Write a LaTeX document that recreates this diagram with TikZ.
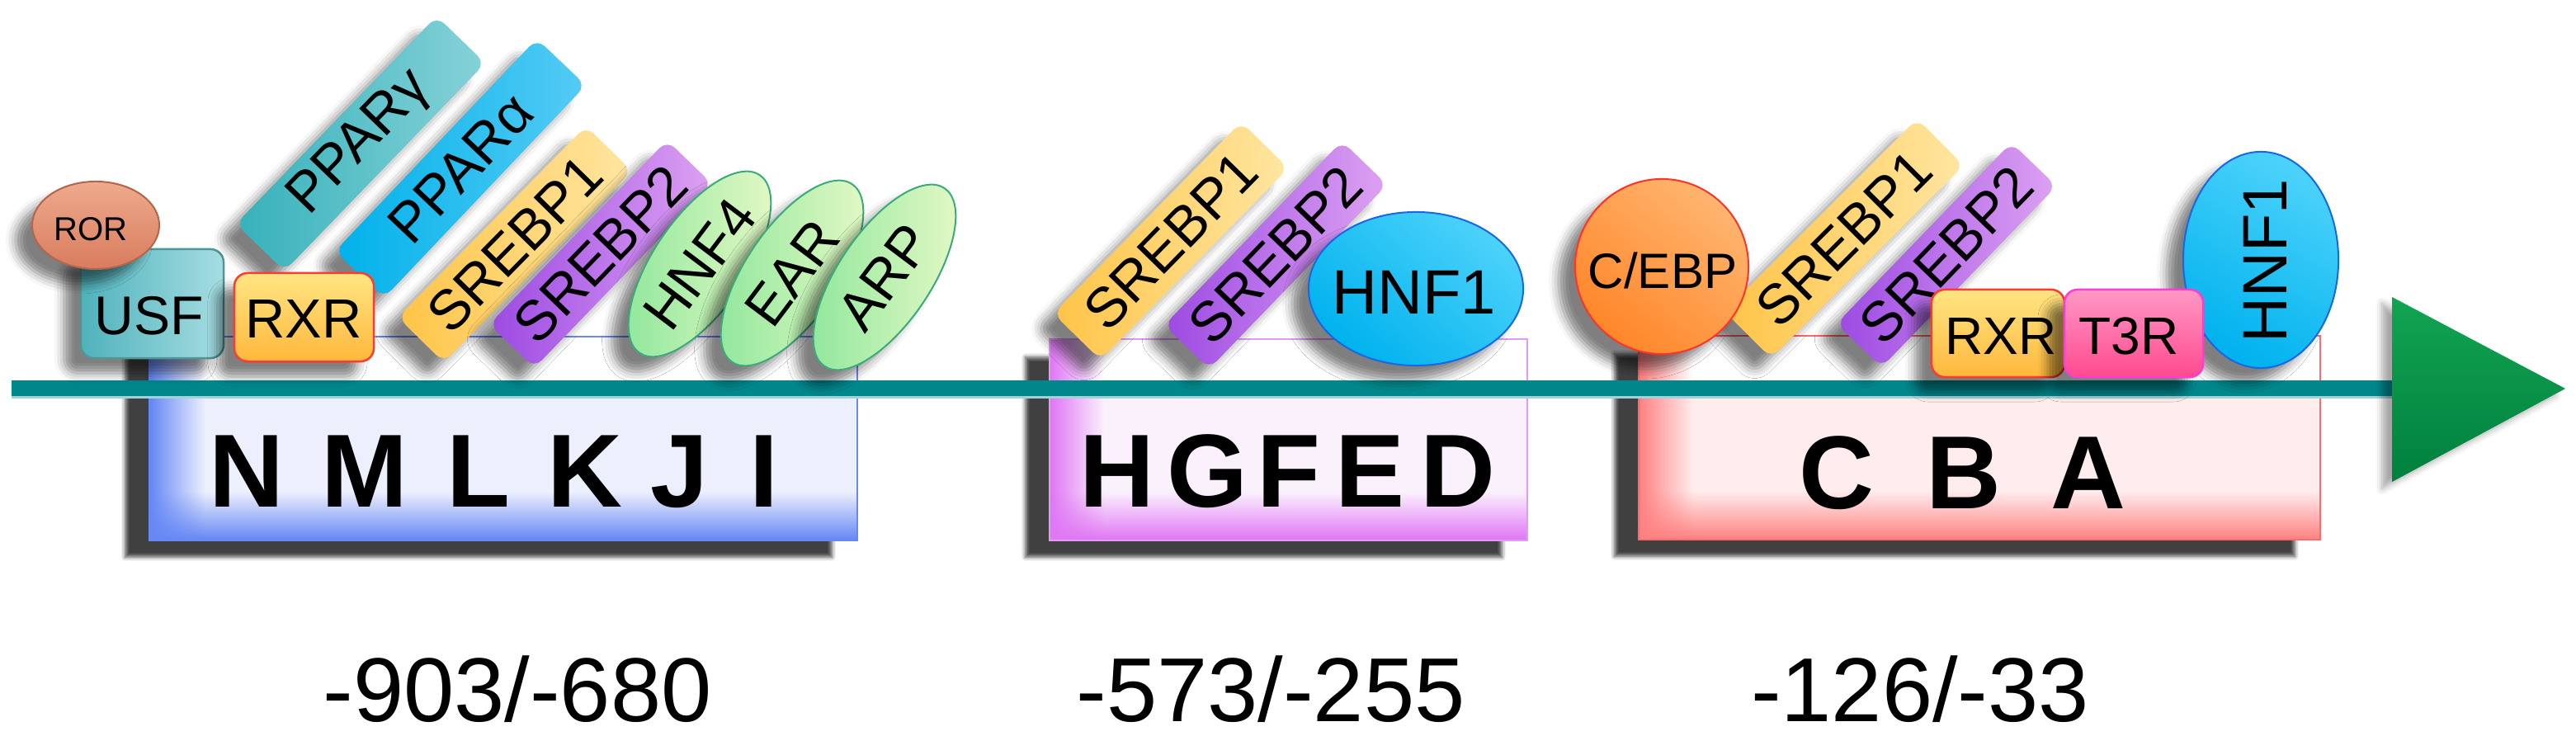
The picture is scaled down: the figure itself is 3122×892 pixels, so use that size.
\documentclass[tikz,border=0pt]{standalone}
\usepackage{fontspec}
\setmainfont{Liberation Sans}
\usetikzlibrary{shapes.geometric,shadows.blur,fadings}

\definecolor{axisc}{HTML}{00878C}
\definecolor{axislt}{HTML}{9ED3DA}
\definecolor{rorc}{HTML}{D97C5E}
\definecolor{rorlt}{HTML}{EEAA8C}
\definecolor{rorbd}{HTML}{B5654C}
\definecolor{usfc}{HTML}{4FB2BB}
\definecolor{usflt}{HTML}{A6DDE2}
\definecolor{usfbd}{HTML}{4F9696}
\definecolor{rxrc}{HTML}{FFB83C}
\definecolor{rxrlt}{HTML}{FFE583}
\definecolor{rxrbd}{HTML}{FF3A2E}
\definecolor{ppargc}{HTML}{36B1BA}
\definecolor{ppargl}{HTML}{86D2D8}
\definecolor{pparac}{HTML}{00B1EA}
\definecolor{pparal}{HTML}{55CBF4}
\definecolor{srebpa}{HTML}{FFC447}
\definecolor{srebpal}{HTML}{FFE6A2}
\definecolor{srebpb}{HTML}{9C4AE2}
\definecolor{srebpbl}{HTML}{DDA2F2}
\definecolor{greenc}{HTML}{8EE79B}
\definecolor{greenlt}{HTML}{E6F9C6}
\definecolor{greenbd}{HTML}{3DAA7C}
\definecolor{hnfc}{HTML}{00B2EE}
\definecolor{hnflt}{HTML}{4CD2FA}
\definecolor{hnfbd}{HTML}{1768E6}
\definecolor{cebpc}{HTML}{FF8629}
\definecolor{cebplt}{HTML}{FFB570}
\definecolor{cebpbd}{HTML}{FF3426}
\definecolor{t3rc}{HTML}{FF4A8E}
\definecolor{t3rlt}{HTML}{FF98C6}
\definecolor{t3rbd}{HTML}{FF3CD2}
\definecolor{arrowc}{HTML}{00803E}
\definecolor{arrowlt}{HTML}{12A452}
\definecolor{bluelt}{HTML}{ECEFFC}
\definecolor{blueglow}{HTML}{6688F5}
\definecolor{bluebd}{HTML}{6A88F2}
\definecolor{maglt}{HTML}{FBF1FD}
\definecolor{magglow}{HTML}{E077F5}
\definecolor{magbd}{HTML}{E19BF5}
\definecolor{pinklt}{HTML}{FFEDEE}
\definecolor{pinkglow}{HTML}{FF8282}
\definecolor{pinkbd}{HTML}{FF6A6A}

\newcommand{\fsz}[1]{\fontsize{#1pt}{#1pt}\selectfont}
\tikzfading[name=fadeR, left color=transparent!0, right color=transparent!100]
\tikzfading[name=fadeU, top color=transparent!100, bottom color=transparent!0]

\begin{document}
\begin{tikzpicture}[x=0.01cm, y=-0.01cm,
  pshadow/.style={blur shadow={shadow xshift=-0.2cm, shadow yshift=-0.18cm, shadow blur radius=0.12cm, shadow opacity=50}},
  bandbox/.style={rectangle, rounded corners=0.13cm, inner sep=0pt, pshadow},
  pill/.style={rectangle, rounded corners=0.16cm, inner sep=0pt, line width=0.025cm, pshadow},
  blob/.style={ellipse, inner sep=0pt, line width=0.02cm, pshadow},
  lbl/.style={inner sep=0pt, text=black, font=\fsz{19.3}},
  dnabox/.style={rectangle, inner sep=0pt, fill=white, blur shadow={shadow xshift=-0.3cm, shadow yshift=-0.21cm, shadow blur radius=0.05cm, shadow opacity=75}},
  boxletter/.style={inner sep=0pt, anchor=base, font=\fsz{35.8}\bfseries},
  coordlbl/.style={inner sep=0pt, anchor=base, font=\fsz{31.3}},
  axisline/.style={line width=0.19cm, draw=axisc},
]
\useasboundingbox (0,0) rectangle (3122,892);

% ---------------- DNA boxes ----------------
\node[dnabox, minimum width=8.56cm, minimum height=2.45cm] (boxN) at (610,531.5) {};
\fill[bluelt] (182,471) rectangle (1038,654);
\fill[blueglow, path fading=fadeU] (182,596) rectangle (1038,654);
\fill[blueglow, path fading=fadeR] (182,409) rectangle (248,654);
\draw[bluebd, line width=0.02cm] (boxN.north west) rectangle (boxN.south east);

\node[dnabox, minimum width=5.77cm, minimum height=2.42cm] (boxH) at (1561.5,533) {};
\fill[maglt] (1273,471) rectangle (1850,654);
\fill[magglow, path fading=fadeU] (1273,596) rectangle (1850,654);
\fill[magglow, path fading=fadeR] (1273,412) rectangle (1338,654);
\draw[magbd, line width=0.02cm] (boxH.north west) rectangle (boxH.south east);

\node[dnabox, minimum width=8.24cm, minimum height=2.45cm] (boxC) at (2399,530.5) {};
\fill[pinklt] (1987,471) rectangle (2811,653);
\fill[pinkglow, path fading=fadeU] (1987,595) rectangle (2811,653);
\fill[pinkglow, path fading=fadeR] (1987,408) rectangle (2052,653);
\draw[pinkbd, line width=0.02cm] (boxC.north west) rectangle (boxC.south east);

% ---------------- DNA axis ----------------
\coordinate (dna-start) at (14,471);
\coordinate (dna-end) at (2902,471);
\draw[axisline] (dna-start) -- (dna-end);
\draw[axislt, line width=0.03cm] ([yshift=-0.105cm]dna-start) -- ([yshift=-0.105cm]dna-end);

\shade[top color=arrowlt, bottom color=arrowc,
  blur shadow={shadow xshift=-0.12cm, shadow yshift=-0.08cm, shadow blur radius=0.08cm, shadow opacity=35}]
  (2899,360) -- (3109,471) -- (2899,584) -- cycle;

% ---------------- box letters ----------------
\node[boxletter] (lN) at (299,615) {N};
\node[boxletter] (lM) at (442,615) {M};
\node[boxletter] (lL) at (580,615) {L};
\node[boxletter] (lK) at (709,615) {K};
\node[boxletter] (lJ) at (823,615) {J};
\node[boxletter] (lI) at (926,615) {I};

\node[boxletter] (lH) at (1354,615) {H};
\node[boxletter] (lG) at (1463,615) {G};
\node[boxletter] (lF) at (1562,615) {F};
\node[boxletter] (lE) at (1660,615) {E};
\node[boxletter] (lD) at (1767,615) {D};

\node[boxletter] (lC) at (2226,617) {C};
\node[boxletter] (lB) at (2380,617) {B};
\node[boxletter] (lA) at (2531,617) {A};

% ---------------- left group ----------------
\node[pill, minimum width=1.73cm, minimum height=1.32cm, draw=usfbd, left color=usfc, right color=usflt] (usf) at (184.5,368) {};
\node[lbl, font=\fsz{18.8}] (usf-t) at (181,383) {USF};
\node[blob, minimum width=1.54cm, minimum height=1.06cm, draw=rorbd, top color=rorlt, bottom color=rorc] (ror) at (116,273) {};
\node[lbl, font=\fsz{11.4}] (ror-t) at (110,278) {ROR};

\node[bandbox, rotate=46, minimum width=3.5cm, minimum height=0.82cm, left color=ppargc, right color=ppargl] (pparg) at (437,174) {};
\node[lbl, rotate=46] (pparg-t) at (pparg) {PPARγ};
\node[bandbox, rotate=46.5, minimum width=3.55cm, minimum height=0.82cm, left color=pparac, right color=pparal] (ppara) at (558,204) {};
\node[lbl, rotate=46.5] (ppara-t) at (ppara) {PPARα};

\node[pill, minimum width=1.69cm, minimum height=1.07cm, draw=rxrbd, top color=rxrlt, bottom color=rxrc] (rxr1) at (368.5,384.5) {};
\node[lbl, font=\fsz{19}] (rxr1-t) at (368,387) {RXR};

\node[bandbox, rotate=45.5, minimum width=3.25cm, minimum height=0.78cm, left color=srebpa, right color=srebpal] (srebp1a) at (624,296) {};
\node[lbl, rotate=45.5] (srebp1a-t) at (srebp1a) {SREBP1};
\node[bandbox, rotate=46, minimum width=3.1cm, minimum height=0.76cm, left color=srebpb, right color=srebpbl] (srebp2a) at (728,308) {};
\node[lbl, rotate=46] (srebp2a-t) at (srebp2a) {SREBP2};

\node[blob, rotate=56, minimum width=2.6cm, minimum height=1.12cm, draw=greenbd, left color=greenc, right color=greenlt] (hnf4) at (848,320) {};
\node[lbl, rotate=53] (hnf4-t) at (hnf4) {HNF4};
\node[blob, rotate=56, minimum width=2.6cm, minimum height=1.12cm, draw=greenbd, left color=greenc, right color=greenlt] (ear) at (960,331) {};
\node[lbl, rotate=53] (ear-t) at (ear) {EAR};
\node[blob, rotate=56, minimum width=2.6cm, minimum height=1.12cm, draw=greenbd, left color=greenc, right color=greenlt] (arp) at (1072,336) {};
\node[lbl, rotate=53] (arp-t) at (arp) {ARP};

% ---------------- middle group ----------------
\node[bandbox, rotate=45.6, minimum width=3.25cm, minimum height=0.8cm, left color=srebpa, right color=srebpal] (srebp1b) at (1419,292) {};
\node[lbl, rotate=45.6] (srebp1b-t) at (srebp1b) {SREBP1};
\node[bandbox, rotate=46, minimum width=3.1cm, minimum height=0.76cm, left color=srebpb, right color=srebpbl] (srebp2b) at (1546,309) {};
\node[lbl, rotate=46] (srebp2b-t) at (srebp2b) {SREBP2};
\node[blob, minimum width=2.6cm, minimum height=1.86cm, draw=hnfbd, top color=hnflt, bottom color=hnfc, shading angle=-40] (hnf1b) at (1716,350) {};
\node[lbl, font=\fsz{21.6}] (hnf1b-t) at (1714,354) {HNF1};

% ---------------- right group ----------------
\node[bandbox, rotate=45, minimum width=3.3cm, minimum height=0.8cm, left color=srebpa, right color=srebpal] (srebp1c) at (2235,289) {};
\node[lbl, rotate=45] (srebp1c-t) at (srebp1c) {SREBP1};
\node[blob, minimum width=2.1cm, minimum height=2.12cm, draw=cebpbd, top color=cebplt, bottom color=cebpc, shading angle=-40] (cebp) at (2014,323) {};
\node[lbl, font=\fsz{17.1}] (cebp-t) at (2015,328) {C/EBP};
\node[bandbox, rotate=46, minimum width=3.05cm, minimum height=0.76cm, left color=srebpb, right color=srebpbl] (srebp2c) at (2359,309) {};
\node[lbl, rotate=46] (srebp2c-t) at (srebp2c) {SREBP2};
\node[blob, minimum width=1.88cm, minimum height=2.62cm, draw=hnfbd, top color=hnflt, bottom color=hnfc, shading angle=-30] (hnf1c) at (2740,315) {};
\node[lbl, rotate=90, font=\fsz{21.6}] (hnf1c-t) at (2745,316) {HNF1};
\node[pill, minimum width=1.61cm, minimum height=1.06cm, draw=rxrbd, top color=rxrlt, bottom color=rxrc] (rxr2) at (2421.5,404) {};
\node[lbl, font=\fsz{18.2}] (rxr2-t) at (2425,407) {RXR};
\node[pill, minimum width=1.68cm, minimum height=1.06cm, draw=t3rbd, top color=t3rlt, bottom color=t3rc] (t3r) at (2586,404) {};
\node[lbl, font=\fsz{18.2}] (t3r-t) at (2580,407) {T3R};

% ---------------- coordinates ----------------
\node[coordlbl] (pos1) at (627,874) {-903/-680};
\node[coordlbl] (pos2) at (1540,874) {-573/-255};
\node[coordlbl] (pos3) at (2327,874) {-126/-33};
\end{tikzpicture}
\end{document}
